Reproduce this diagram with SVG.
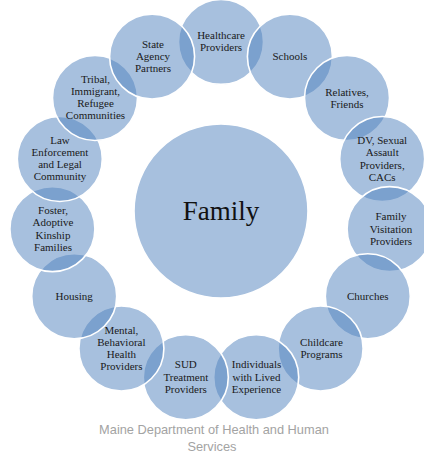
<svg xmlns="http://www.w3.org/2000/svg" width="424" height="460" viewBox="0 0 424 460">
  <style>
    .disc { fill: #4F81BD; fill-opacity: 0.5; stroke: #ffffff; stroke-width: 1.6; }
    .lbl { font-family: "Liberation Serif", "Times New Roman", serif; font-size: 11px; fill: #1a1a1a; text-anchor: middle; }
    .hub { font-family: "Liberation Serif", "Times New Roman", serif; font-size: 27px; fill: #111111; text-anchor: middle; }
    .cap { font-family: "Liberation Sans", Arial, sans-serif; font-size: 12.8px; fill: #a3a3a3; text-anchor: middle; }
  </style>
  <rect width="424" height="460" fill="#ffffff"/>

  <!-- centre node -->
  <g id="family">
    <circle class="disc" cx="221" cy="211" r="87"/>
    <text class="hub" x="221" y="219.5">Family</text>
  </g>

  <!-- ring of partners, drawn clockwise from the top, 24 degrees apart -->
  <g id="healthcare">
    <circle class="disc" cx="221" cy="41.9" r="42.5"/>
    <text class="lbl" x="221" y="38.5">Healthcare<tspan x="221" dy="12.3">Providers</tspan></text>
  </g>
  <g id="schools">
    <circle class="disc" cx="289.9" cy="56.6" r="42.5"/>
    <text class="lbl" x="289.9" y="60">Schools</text>
  </g>
  <g id="relatives">
    <circle class="disc" cx="347" cy="98" r="42.5"/>
    <text class="lbl" x="347" y="95.5">Relatives,<tspan x="347" dy="12.3">Friends</tspan></text>
  </g>
  <g id="dv">
    <circle class="disc" cx="382.2" cy="159" r="42.5"/>
    <text class="lbl" x="382.2" y="144">DV, Sexual<tspan x="382.2" dy="12.3">Assault</tspan><tspan x="382.2" dy="12.3">Providers,</tspan><tspan x="382.2" dy="12.3">CACs</tspan></text>
  </g>
  <g id="visitation">
    <circle class="disc" cx="389.6" cy="229.1" r="42.5"/>
    <text class="lbl" x="391" y="220.2">Family<tspan x="391" dy="12.3">Visitation</tspan><tspan x="391" dy="12.3">Providers</tspan></text>
  </g>
  <g id="churches">
    <circle class="disc" cx="367.8" cy="296.2" r="42.5"/>
    <text class="lbl" x="367.8" y="299.5">Churches</text>
  </g>
  <g id="childcare">
    <circle class="disc" cx="320.6" cy="348.5" r="42.5"/>
    <text class="lbl" x="321.5" y="345.5">Childcare<tspan x="321.5" dy="12.3">Programs</tspan></text>
  </g>
  <g id="lived-experience">
    <circle class="disc" cx="256.2" cy="377.2" r="42.5"/>
    <text class="lbl" x="256.5" y="368.3">Individuals<tspan x="256.5" dy="12.3">with Lived</tspan><tspan x="256.5" dy="12.3">Experience</tspan></text>
  </g>
  <g id="sud">
    <circle class="disc" cx="185.8" cy="377.2" r="42.5"/>
    <text class="lbl" x="185.8" y="368.3">SUD<tspan x="185.8" dy="12.3">Treatment</tspan><tspan x="185.8" dy="12.3">Providers</tspan></text>
  </g>
  <g id="mental-health">
    <circle class="disc" cx="121.4" cy="348.5" r="42.5"/>
    <text class="lbl" x="121.4" y="333.5">Mental,<tspan x="121.4" dy="12.3">Behavioral</tspan><tspan x="121.4" dy="12.3">Health</tspan><tspan x="121.4" dy="12.3">Providers</tspan></text>
  </g>
  <g id="housing">
    <circle class="disc" cx="74.2" cy="296.2" r="42.5"/>
    <text class="lbl" x="74.2" y="299.5">Housing</text>
  </g>
  <g id="foster">
    <circle class="disc" cx="52.4" cy="229.1" r="42.5"/>
    <text class="lbl" x="53" y="214">Foster,<tspan x="53" dy="12.3">Adoptive</tspan><tspan x="53" dy="12.3">Kinship</tspan><tspan x="53" dy="12.3">Families</tspan></text>
  </g>
  <g id="law">
    <circle class="disc" cx="59.8" cy="159" r="42.5"/>
    <text class="lbl" x="60" y="143.5">Law<tspan x="60" dy="12.3">Enforcement</tspan><tspan x="60" dy="12.3">and Legal</tspan><tspan x="60" dy="12.3">Community</tspan></text>
  </g>
  <g id="tribal">
    <circle class="disc" cx="95" cy="98" r="42.5"/>
    <text class="lbl" x="95.5" y="82.5">Tribal,<tspan x="95.5" dy="12.3">Immigrant,</tspan><tspan x="95.5" dy="12.3">Refugee</tspan><tspan x="95.5" dy="12.3">Communities</tspan></text>
  </g>
  <g id="state-agency">
    <circle class="disc" cx="152.1" cy="56.6" r="42.5"/>
    <text class="lbl" x="153" y="47.5">State<tspan x="153" dy="12.3">Agency</tspan><tspan x="153" dy="12.3">Partners</tspan></text>
  </g>

  <!-- no connectors: the partners simply ring the centre -->
  <g id="connectors"/>

  <text class="cap" x="214" y="434">Maine Department of Health and Human</text>
  <text class="cap" x="212" y="451">Services</text>
</svg>
